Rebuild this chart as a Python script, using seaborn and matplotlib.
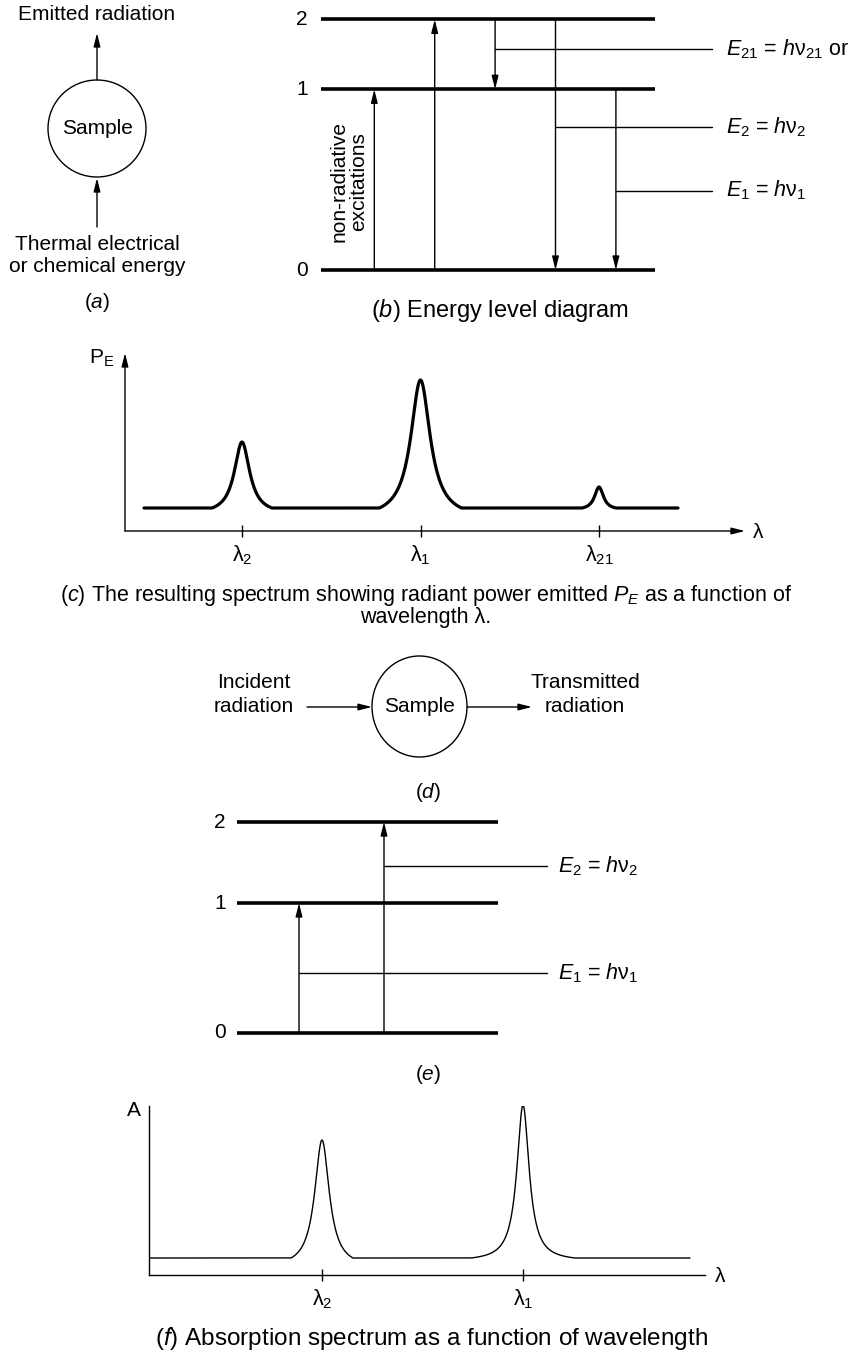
import matplotlib
matplotlib.use("Agg")
import matplotlib.pyplot as plt
from matplotlib.patches import Ellipse
import seaborn as sns
import numpy as np
import pandas as pd

W, H = 851, 1358

# ── (b) emission: energy levels and transitions ──────────────────────────────
level_names = ["0", "1", "2"]
emis_levels = [0.0, 1.0, 1.387]
emis_from = [0, 0, 2, 2, 1]
emis_to = [1, 2, 1, 0, 0]
emis_note_at = [np.nan, np.nan, 1.221, 0.790, 0.439]
emis_notes = ["", "", "$E_{21}$ = $h$ν$_{21}$ or", "$E_2$ = $h$ν$_2$", "$E_1$ = $h$ν$_1$"]

# ── (c) emission spectrum ───────────────────────────────────────────────────
emis_peak_names = ["λ$_2$", "λ$_1$", "λ$_{21}$"]
emis_peak_pos = [1.0, 2.0, 3.0]
emis_peak_height = [0.66, 1.28, 0.21]
emis_peak_hwhm = [0.052, 0.066, 0.030]
emis_peak_base = [0.168, 0.230, 0.095]
emis_background = 0.23

# ── (e) absorption: energy levels and transitions ────────────────────────────
abs_levels = [0.0, 1.0, 1.623]
abs_from = [0, 0]
abs_to = [1, 2]
abs_note_at = [0.462, 1.285]
abs_notes = ["$E_1$ = $h$ν$_1$", "$E_2$ = $h$ν$_2$"]

# ── (f) absorption spectrum ─────────────────────────────────────────────────
abs_peak_names = ["λ$_2$", "λ$_1$"]
abs_peak_pos = [1.0, 2.0]
abs_peak_height = [1.18, 1.53]
abs_peak_hwhm = [0.044, 0.037]
abs_peak_base = [0.154, 0.259]
abs_background = 0.17

FS = 15
ARROW = dict(arrowstyle="-|>,head_length=0.8,head_width=0.2", color="black",
             lw=1.0, shrinkA=0, shrinkB=0, mutation_scale=10)


def data_axes(fig, box, xmap, ymap):
    """box = (left, top, right, bottom) in pixels; maps = (px_a, val_a, px_b, val_b)."""
    l, t, r, b = box
    ax = fig.add_axes([l / W, 1 - b / H, (r - l) / W, (b - t) / H])

    def lim(m, p0, p1):
        pa, va, pb, vb = m
        k = (vb - va) / (pb - pa)
        return va + (p0 - pa) * k, va + (p1 - pa) * k

    ax.set_xlim(*lim(xmap, l, r))
    ax.set_ylim(*lim(ymap, b, t))
    ax.patch.set_alpha(0)
    return ax


def px_to_x(ax, px):
    return ax.transData.inverted().transform((px, 0))[0]


def spectrum(lam, pos, height, hwhm, base, background):
    y = np.full_like(lam, background)
    for c, h, g, b in zip(pos, height, hwhm, base):
        lor = 1 / (1 + ((lam - c) / g) ** 2)
        cut = 1 / (1 + (b / g) ** 2)
        y += h * np.clip((lor - cut) / (1 - cut), 0, None)
    return y


def draw_levels(ax, levels, starts, ends, note_at, notes, line_px, note_px, text_px, label_px):
    x0, x1 = px_to_x(ax, line_px[0]), px_to_x(ax, line_px[1])
    ax.hlines(levels, x0, x1, color="black", lw=2.6)
    for e, name in zip(levels, level_names):
        ax.text(px_to_x(ax, label_px), e, name, ha="center", va="center", fontsize=FS)
    xn, xt = px_to_x(ax, note_px), px_to_x(ax, text_px)
    for i, (a, b) in enumerate(zip(starts, ends)):
        x = i + 1
        ax.annotate("", xy=(x, levels[b]), xytext=(x, levels[a]), arrowprops=ARROW)
        if notes[i]:
            ax.plot([x, xn], [note_at[i]] * 2, color="black", lw=1.0)
            ax.text(xt, note_at[i], notes[i], ha="left", va="center", fontsize=15.5)
    ax.axis("off")


def draw_spectrum(ax, names, pos, height, hwhm, base, background, lam_px, lw):
    lam = np.linspace(px_to_x(ax, lam_px[0]), px_to_x(ax, lam_px[1]), 1500)
    df = pd.DataFrame({"wavelength": lam,
                       "signal": spectrum(lam, pos, height, hwhm, base, background)})
    sns.lineplot(data=df, x="wavelength", y="signal", ax=ax, color="black",
                 lw=lw, estimator=None, sort=False)
    ax.set_xticks(pos, names, fontsize=15.5)
    ax.set_yticks([])
    ax.set_xlabel("")
    ax.set_ylabel("")
    ax.tick_params(axis="x", bottom=True, direction="inout", length=8.6, width=1.0, pad=4.5)


sns.set_theme(style="white", rc={"axes.edgecolor": "black", "text.color": "black",
                                 "xtick.color": "black", "ytick.color": "black"})
plt.rcParams["font.family"] = ["Liberation Sans", "DejaVu Sans"]
plt.rcParams["mathtext.fontset"] = "custom"
plt.rcParams["mathtext.rm"] = "Liberation Sans"
plt.rcParams["mathtext.it"] = "Liberation Sans:italic"

fig = plt.figure(figsize=(W / 100, H / 100), dpi=100)
fig.patch.set_facecolor("white")

# overlay in pixel units for the schematic parts and captions
bg = fig.add_axes([0, 0, 1, 1])
bg.set_xlim(0, W)
bg.set_ylim(H, 0)
bg.axis("off")

# (a) emission schematic
bg.add_patch(Ellipse((97, 128.5), 98, 97, fill=False, lw=1.0, ec="black"))
bg.annotate("", xy=(97, 33), xytext=(97, 80), arrowprops=ARROW)
bg.annotate("", xy=(97, 178), xytext=(97, 227), arrowprops=ARROW)
bg.text(97, 15, "Emitted radiation", ha="center", va="center", fontsize=FS)
bg.text(97, 128.5, "Sample", ha="center", va="center", fontsize=FS)
bg.text(97, 245, "Thermal electrical", ha="center", va="center", fontsize=FS)
bg.text(97, 267, "or chemical energy", ha="center", va="center", fontsize=FS)
bg.text(97, 303, "($a$)", ha="center", va="center", fontsize=FS)

# (b) energy level diagram
ax_b = data_axes(fig, (280, 0, 851, 290), (374.3, 1, 434.7, 2), (270, 0, 89.3, 1))
draw_levels(ax_b, emis_levels, emis_from, emis_to, emis_note_at, emis_notes,
            (321, 655), 712, 726, 302)
bg.text(349, 182, "non-radiative\nexcitations", rotation=90, ha="center", va="center",
        fontsize=FS, linespacing=1.05)
bg.text(500, 310, "($b$) Energy level diagram", ha="center", va="center", fontsize=17)

# (c) emission spectrum
ax_c = data_axes(fig, (125, 353, 745, 531), (242, 1, 420.5, 2), (531, 0, 431, 1))
draw_spectrum(ax_c, emis_peak_names, emis_peak_pos, emis_peak_height, emis_peak_hwhm,
              emis_peak_base, emis_background, (144, 678), 2.3)
sns.despine(ax=ax_c, left=True, bottom=True)
ax_c.annotate("", xy=(1, 0), xytext=(0, 0), xycoords="axes fraction", arrowprops=ARROW)
ax_c.annotate("", xy=(0, 1), xytext=(0, 0), xycoords="axes fraction", arrowprops=ARROW)
bg.text(89, 358, "P$_\\mathrm{E}$", ha="left", va="center", fontsize=FS)
bg.text(758, 533, "λ", ha="center", va="center", fontsize=FS)
bg.text(426, 595, "($c$) The resulting spectrum showing radiant power emitted $P_E$ as a function of",
        ha="center", va="center", fontsize=15.5)
bg.text(426, 617, "wavelength λ.", ha="center", va="center", fontsize=15.5)

# (d) absorption schematic
bg.add_patch(Ellipse((419.5, 706.5), 95, 101, fill=False, lw=1.0, ec="black"))
bg.annotate("", xy=(372, 707), xytext=(307, 707), arrowprops=ARROW)
bg.annotate("", xy=(532, 707), xytext=(467, 707), arrowprops=ARROW)
bg.text(419.5, 707, "Sample", ha="center", va="center", fontsize=FS)
bg.text(254, 682, "Incident", ha="center", va="center", fontsize=FS)
bg.text(254, 707, "radiation", ha="center", va="center", fontsize=FS)
bg.text(585, 682, "Transmitted", ha="center", va="center", fontsize=FS)
bg.text(585, 707, "radiation", ha="center", va="center", fontsize=FS)
bg.text(428, 793, "($d$)", ha="center", va="center", fontsize=FS)

# (e) absorption energy levels
ax_e = data_axes(fig, (200, 810, 851, 1045), (299, 1, 384, 2), (1033, 0, 903, 1))
draw_levels(ax_e, abs_levels, abs_from, abs_to, abs_note_at, abs_notes,
            (237, 498), 547, 558, 220)
bg.text(428, 1075, "($e$)", ha="center", va="center", fontsize=FS)

# (f) absorption spectrum
ax_f = data_axes(fig, (149, 1106, 705, 1275), (322, 1, 523, 2), (1275, 0, 1175, 1))
draw_spectrum(ax_f, abs_peak_names, abs_peak_pos, abs_peak_height, abs_peak_hwhm,
              abs_peak_base, abs_background, (149, 690), 1.0)
sns.despine(ax=ax_f)
for side in ("left", "bottom"):
    ax_f.spines[side].set_linewidth(1.0)
bg.text(134, 1110, "A", ha="center", va="center", fontsize=FS)
bg.text(720, 1277, "λ", ha="center", va="center", fontsize=FS)
bg.text(432, 1338, "($f$) Absorption spectrum as a function of wavelength",
        ha="center", va="center", fontsize=17.5)

fig.savefig("out.png", dpi=100, facecolor="white")
